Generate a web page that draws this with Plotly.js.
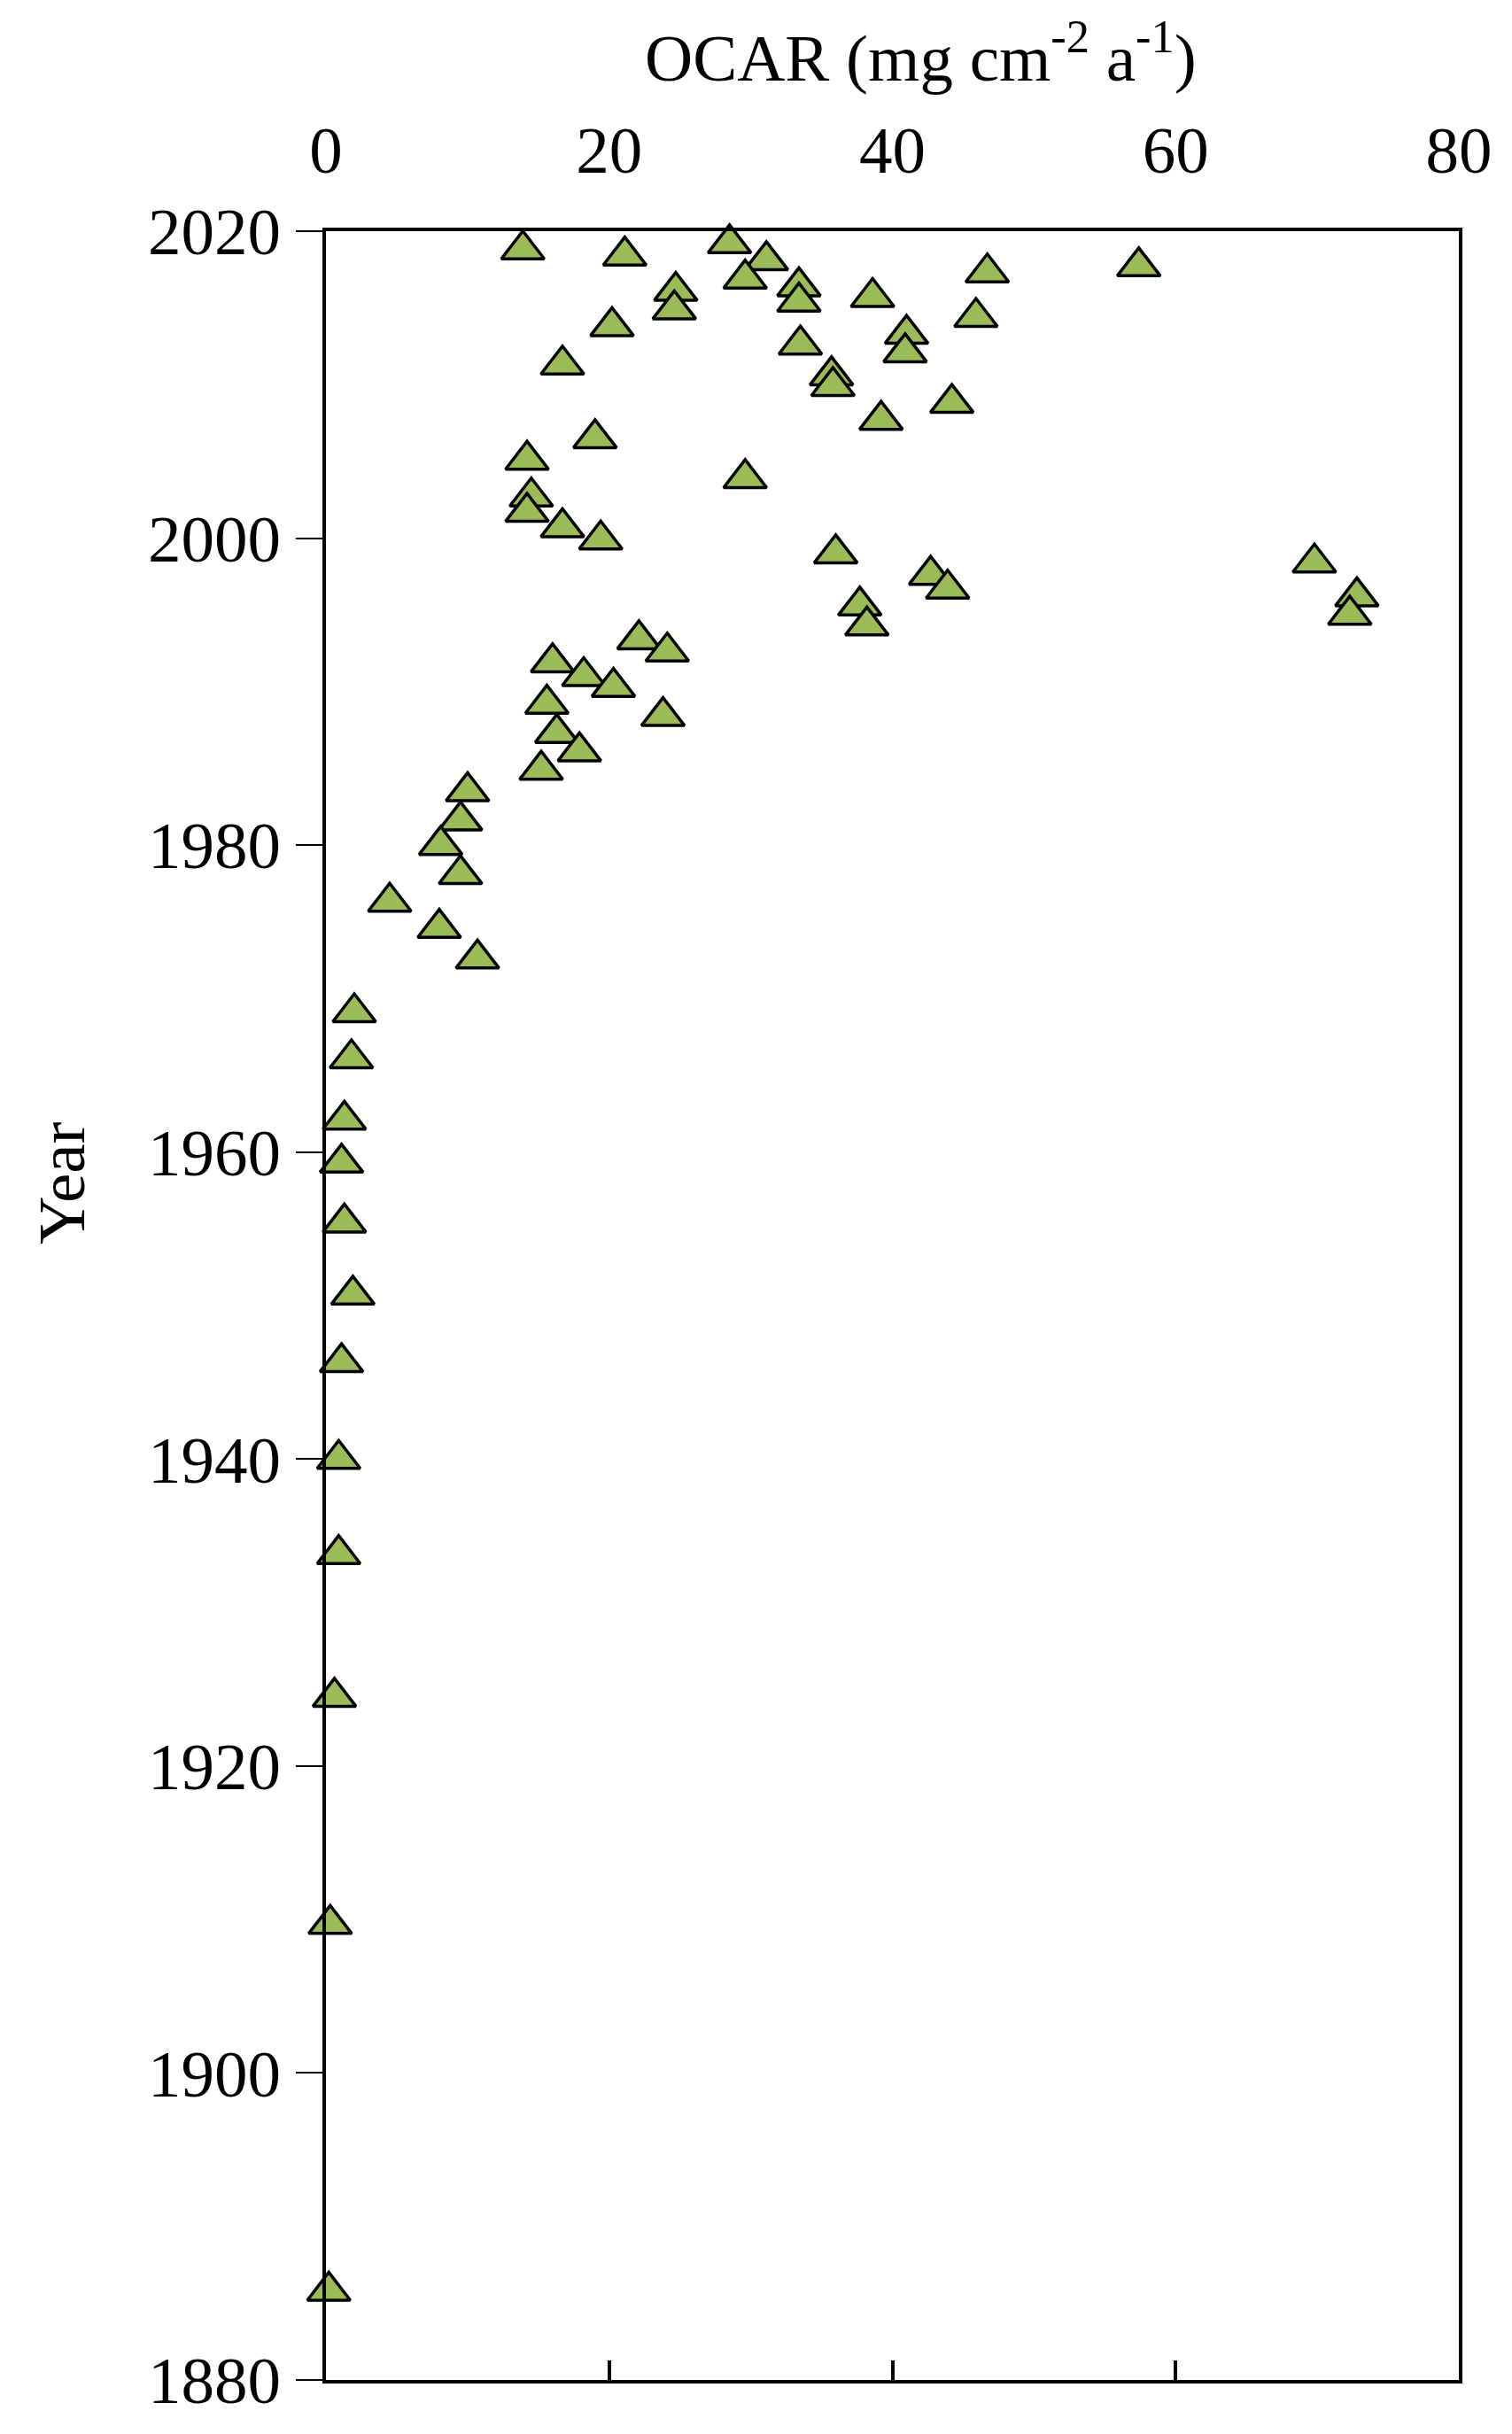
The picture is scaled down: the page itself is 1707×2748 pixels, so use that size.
<!DOCTYPE html>
<html>
<head>
<meta charset="utf-8">
<script src="https://cdn.plot.ly/plotly-3.0.1.min.js"></script>
<style>
  body { margin: 0; background: #fff; }
  #ocarPlot { width: 1707px; height: 2748px; }
</style>
</head>
<body>
<div id="ocarPlot"></div>
<script>
// organic carbon accumulation rate vs. year
var ocar = [13.9, 21.1, 28.5, 31.1, 29.6, 24.7, 24.6, 33.4, 33.4, 38.6,
            46.7, 57.4, 20.2, 41.0, 40.9, 45.9, 33.5, 16.7, 35.7, 35.8,
            44.2, 39.2, 19.0, 14.2, 14.5, 14.2, 16.7, 19.4, 29.6, 36.0,
            42.7, 43.9, 37.7, 38.2, 69.8, 72.8, 72.3, 22.1, 24.1, 16.0,
            18.2, 20.3, 15.6, 23.8, 16.3, 17.9, 15.2, 10.0, 9.5, 8.1,
            9.5, 4.5, 8.0, 10.7, 2.0, 1.8, 1.3, 1.1, 1.3, 1.9,
            1.1, 0.9, 0.9, 0.6, 0.3, 0.2];
var year = [2018.8, 2018.4, 2019.2, 2018.1, 2016.9, 2016.1, 2014.9, 2016.4, 2015.4, 2015.7,
            2017.3, 2017.7, 2013.8, 2013.3, 2012.1, 2014.4, 2012.6, 2011.3, 2010.6, 2009.9,
            2008.8, 2007.7, 2006.5, 2005.1, 2002.7, 2001.7, 2000.7, 1999.9, 2003.9, 1999.0,
            1997.6, 1996.7, 1995.6, 1994.3, 1998.4, 1996.2, 1995.0, 1993.4, 1992.6, 1991.9,
            1991.0, 1990.3, 1989.2, 1988.4, 1987.3, 1986.1, 1984.9, 1983.5, 1981.6, 1980.0,
            1978.1, 1976.3, 1974.6, 1972.6, 1969.1, 1966.1, 1962.1, 1959.3, 1955.4, 1950.7,
            1946.3, 1940.0, 1933.8, 1924.5, 1909.7, 1885.8];

var xRange = [0, 80];
var yRange = [1880, 2020];
var bottomTicks = [20, 40, 60];

var serif = "Liberation Serif, Times New Roman, serif";

var trace = {
    x: ocar,
    y: year,
    mode: "markers",
    type: "scatter",
    cliponaxis: false,
    hoverinfo: "x+y",
    marker: {
        symbol: "triangle-up",
        size: 42,
        color: "#9BBB59",
        line: {color: "#000", width: 3.5}
    }
};

// same points on the bottom axis, invisible: only there so that axis gets drawn
var ghost = {
    x: ocar,
    y: year,
    xaxis: "x2",
    mode: "markers",
    type: "scatter",
    hoverinfo: "skip",
    marker: {size: 1, opacity: 0}
};

var layout = {
    width: 1707,
    height: 2748,
    margin: {l: 368, r: 60, t: 261, b: 61},
    paper_bgcolor: "#fff",
    plot_bgcolor: "#fff",
    showlegend: false,
    font: {family: serif, size: 75, color: "#000"},
    xaxis: {
        side: "top",
        range: xRange,
        dtick: 20,
        ticks: "",
        ticklabelstandoff: 32,
        showgrid: false,
        zeroline: false,
        showline: true,
        mirror: true,
        linecolor: "#000",
        linewidth: 4,
        tickfont: {family: serif, size: 75}
    },
    // bottom edge only carries short inward ticks, no labels
    xaxis2: {
        overlaying: "x",
        anchor: "y",
        side: "bottom",
        range: xRange,
        tickvals: bottomTicks,
        ticks: "inside",
        ticklen: 22,
        tickwidth: 4,
        tickcolor: "#000",
        showticklabels: false,
        showgrid: false,
        zeroline: false,
        showline: false
    },
    yaxis: {
        range: yRange,
        dtick: 20,
        ticks: "outside",
        ticklen: 30,
        tickwidth: 2,
        tickcolor: "#000",
        ticklabelstandoff: 2,
        showgrid: false,
        zeroline: false,
        showline: true,
        mirror: true,
        linecolor: "#000",
        linewidth: 4,
        tickfont: {family: serif, size: 75}
    },
    annotations: [
        {
            text: "OCAR (mg cm<sup>-2</sup> a<sup>-1</sup>)",
            xref: "paper", yref: "paper",
            x: 0.525, y: 1.083,
            xanchor: "center", yanchor: "middle",
            showarrow: false,
            font: {family: serif, size: 75}
        },
        {
            text: "Year",
            xref: "paper", yref: "paper",
            x: -0.233, y: 0.557,
            xanchor: "center", yanchor: "middle",
            textangle: -90,
            showarrow: false,
            font: {family: serif, size: 75}
        }
    ]
};

Plotly.newPlot("ocarPlot", [ghost, trace], layout, {displayModeBar: false, staticPlot: true});
</script>
</body>
</html>
